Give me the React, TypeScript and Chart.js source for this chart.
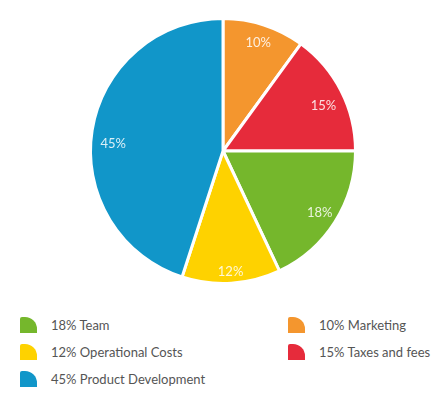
import React, { useEffect, useRef } from "react";
import { Chart, registerables } from "chart.js";

Chart.register(...registerables);

const categories = ["Marketing", "Taxes and fees", "Team", "Operational Costs", "Product Development"];
const values = [10, 15, 18, 12, 45];
const colors = ["#F4962E", "#E62B3B", "#75B72C", "#FED200", "#1196C9"];
const legendRows = [
  ["Team", "Marketing"],
  ["Operational Costs", "Taxes and fees"],
  ["Product Development"],
];

// label placement tweaks (fraction of radius, angle nudge in degrees)
const labelRadius = [0.86, 0.83, 0.865, 0.91, 0.83];
const labelNudge = [0, 3, 0, 0, -5];

const labelPlugin = {
  id: "sliceLabels",
  afterDatasetsDraw(chart: any) {
    const ctx = chart.ctx;
    const meta = chart.getDatasetMeta(0);
    ctx.save();
    ctx.font = "13px Lato";
    ctx.fillStyle = "rgba(255,255,255,0.85)";
    ctx.textAlign = "center";
    ctx.textBaseline = "middle";
    meta.data.forEach((arc: any, i: number) => {
      const p = arc.getProps(["x", "y", "startAngle", "endAngle", "outerRadius"], true);
      const mid = (p.startAngle + p.endAngle) / 2 + (labelNudge[i] * Math.PI) / 180;
      const r = p.outerRadius * labelRadius[i];
      ctx.fillText(values[i] + "%", p.x + Math.cos(mid) * r, p.y + Math.sin(mid) * r);
    });
    ctx.restore();
  },
};

export default function App() {
  const ref = useRef<HTMLCanvasElement>(null);
  useEffect(() => {
    if (!ref.current) return;
    const chart = new Chart(ref.current, {
      type: "pie",
      data: {
        labels: categories,
        datasets: [
          {
            data: values,
            backgroundColor: colors,
            borderColor: "#ffffff",
            borderWidth: 3,
            hoverOffset: 0,
          },
        ],
      },
      options: {
        animation: false,
        responsive: false,
        layout: { padding: { top: 17, bottom: 17, left: 0, right: 0 } },
        plugins: { legend: { display: false }, tooltip: { enabled: false } },
      },
      plugins: [labelPlugin],
    });
    return () => chart.destroy();
  }, []);

  const colorOf = (name: string) => colors[categories.indexOf(name)];
  const valueOf = (name: string) => values[categories.indexOf(name)];

  return (
    <div style={{ position: "absolute", left: 0, top: 0, width: 448, height: 419, background: "#fff" }}>
      <canvas ref={ref} width={446} height={302} style={{ position: "absolute", left: 0, top: 0 }} />
      {legendRows.map((row, ri) =>
        row.map((name, ci) => (
          <div
            key={name}
            style={{
              position: "absolute",
              left: ci === 0 ? 20 : 288,
              top: 316 + ri * 27,
              height: 17,
              display: "flex",
              alignItems: "center",
              fontFamily: "Lato, sans-serif",
              fontSize: 13,
              color: "#555",
              whiteSpace: "nowrap",
            }}
          >
            <span
              style={{
                display: "inline-block",
                width: 17,
                height: 16,
                background: colorOf(name),
                borderTopRightRadius: 12,
                borderTopLeftRadius: 2,
                marginRight: 14,
              }}
            />
            <span>{valueOf(name)}% {name}</span>
          </div>
        ))
      )}
    </div>
  );
}
